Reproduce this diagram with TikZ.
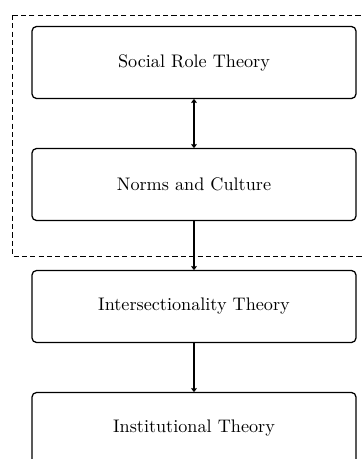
\documentclass[tikz,border=0pt]{standalone}
\usetikzlibrary{arrows.meta}
\begin{document}
\begin{tikzpicture}[x=0.55pt,y=-0.55pt,
  theorybox/.style={draw, line width=0.7pt, rounded corners=2.5pt,
    minimum width=178.2pt, minimum height=39.6pt, inner sep=0pt,
    font=\normalsize},
  link/.style={line width=0.6pt, -{To[length=2.2pt,width=3pt]}},
  dlink/.style={line width=0.6pt, {To[length=2.2pt,width=3pt]}-{To[length=2.2pt,width=3pt]}}]
\useasboundingbox (0,0) rectangle (364,459);
\clip (0,0) rectangle (364,459);
\draw[line width=0.5pt, dash pattern=on 2.8pt off 1.8pt] (12,15) rectangle (376,256);
\node[theorybox] (srt) at (194,62.5) {Social Role Theory};
\node[theorybox] (nc) at (194,184.5) {Norms and Culture};
\node[theorybox] (it) at (194,306.5) {Intersectionality Theory};
\node[theorybox] (inst) at (194,428.5) {Institutional Theory};
\draw[dlink] (srt) -- (nc);
\draw[link] (nc) -- (it);
\draw[link] (it) -- (inst);
\end{tikzpicture}
\end{document}
